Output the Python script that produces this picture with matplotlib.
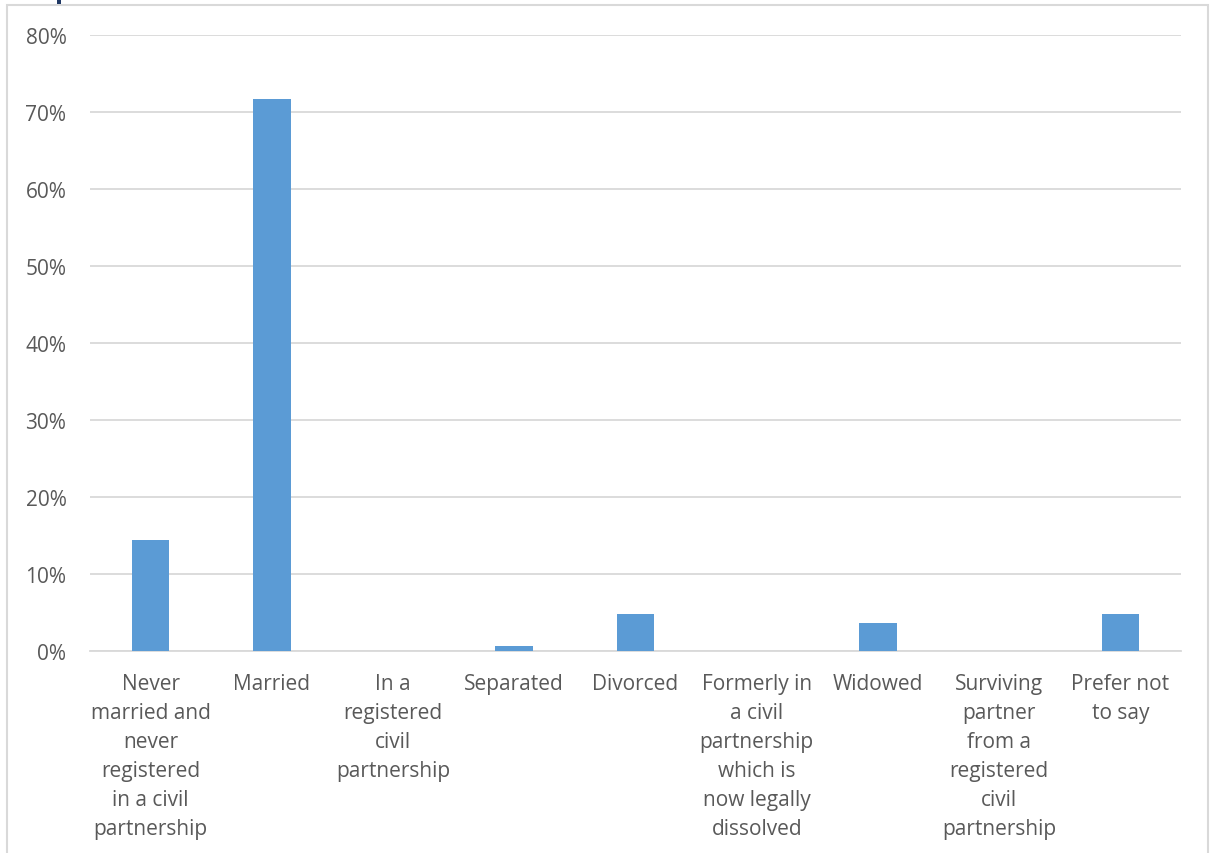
import matplotlib
matplotlib.use("Agg")
import matplotlib.pyplot as plt
from matplotlib.patches import Rectangle
from matplotlib.ticker import FuncFormatter

categories = [
    "Never\nmarried and\nnever\nregistered\nin a civil\npartnership",
    "Married",
    "In a\nregistered\ncivil\npartnership",
    "Separated",
    "Divorced",
    "Formerly in\na civil\npartnership\nwhich is\nnow legally\ndissolved",
    "Widowed",
    "Surviving\npartner\nfrom a\nregistered\ncivil\npartnership",
    "Prefer not\nto say",
]
values = [14.4, 71.7, 0.0, 0.6, 4.8, 0.0, 3.6, 0.0, 4.8]
yticks = [0, 10, 20, 30, 40, 50, 60, 70, 80]

plt.rcParams['font.family'] = ['Open Sans', 'DejaVu Sans']
W, H = 1213, 854
fig = plt.figure(figsize=(W/100, H/100), dpi=100)
ax = fig.add_axes([90/W, 1-652/H, (1181-90)/W, (652-36)/H])

x = list(range(len(categories)))
ax.bar(x, values, width=0.31, color="#5b9bd5", zorder=3)
ax.set_xlim(-0.5, len(categories)-0.5)
ax.set_ylim(0, 80)
ax.set_yticks(yticks)
ax.yaxis.set_major_formatter(FuncFormatter(lambda v, p: f"{int(v)}%"))
ax.grid(axis='y', color="#d9d9d9", linewidth=1.3, zorder=0)
for s in ['top', 'right', 'left']:
    ax.spines[s].set_visible(False)
ax.spines['bottom'].set_color("#d9d9d9")
ax.spines['bottom'].set_linewidth(1.3)
ax.set_xticks(x)
ax.set_xticklabels(categories, linespacing=1.5)
ax.tick_params(axis='both', length=0, labelsize=15, labelcolor="#595959")
ax.tick_params(axis='y', pad=17)
ax.tick_params(axis='x', pad=16)

fig.patches.append(Rectangle((7/W, -0.01), (1208-7)/W, 1-6/H+0.01, transform=fig.transFigure,
                             fill=False, edgecolor="#d9d9d9", linewidth=1.5))
fig.patches.append(Rectangle((57/W, 1-5/H), 4/W, 5/H, transform=fig.transFigure,
                             color="#1f3864", linewidth=0))

fig.savefig("out.png", dpi=100)
